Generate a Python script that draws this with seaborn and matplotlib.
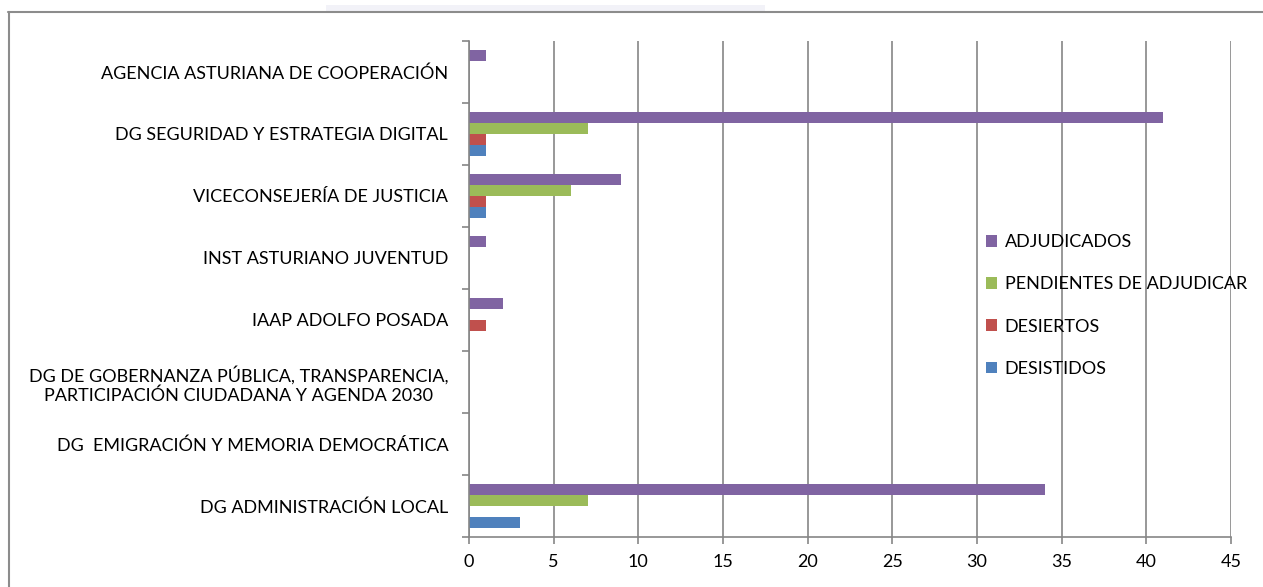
import matplotlib
matplotlib.use("Agg")
import matplotlib.pyplot as plt
import seaborn as sns
import pandas as pd
from matplotlib.lines import Line2D
from matplotlib.patches import Rectangle
from matplotlib.ticker import FixedLocator

categories = [
    "AGENCIA ASTURIANA DE COOPERACIÓN",
    "DG SEGURIDAD Y ESTRATEGIA DIGITAL",
    "VICECONSEJERÍA DE JUSTICIA",
    "INST ASTURIANO JUVENTUD",
    "IAAP ADOLFO POSADA",
    "DG DE GOBERNANZA PÚBLICA, TRANSPARENCIA,\nPARTICIPACIÓN CIUDADANA Y AGENDA 2030",
    "DG  EMIGRACIÓN Y MEMORIA DEMOCRÁTICA",
    "DG ADMINISTRACIÓN LOCAL",
]
series_names = ["ADJUDICADOS", "PENDIENTES DE ADJUDICAR", "DESIERTOS", "DESISTIDOS"]
adjudicados = [1, 41, 9, 1, 2, 0, 0, 34]
pendientes = [0, 7, 6, 0, 0, 0, 0, 7]
desiertos = [0, 1, 1, 0, 1, 0, 0, 0]
desistidos = [0, 1, 1, 0, 0, 0, 0, 3]
x_ticks = [0, 5, 10, 15, 20, 25, 30, 35, 40, 45]
colors = ["#8064A2", "#9BBB59", "#C0504D", "#4F81BD"]

rows = []
for name, vals in zip(series_names, [adjudicados, pendientes, desiertos, desistidos]):
    for c, v in zip(categories, vals):
        rows.append({"cat": c, "serie": name, "valor": v})
df = pd.DataFrame(rows)

sns.set_theme(style="white")
plt.rcParams["font.family"] = ["Lato", "DejaVu Sans"]
plt.rcParams["text.color"] = "black"
FS = 13

fig = plt.figure(figsize=(12.63, 5.87), dpi=100)
ax = fig.add_axes([469 / 1263, 1 - 537 / 587, (1231 - 469) / 1263, (537 - 41) / 587])

sns.barplot(data=df, y="cat", x="valor", hue="serie", order=categories,
            hue_order=series_names, palette=colors, orient="h", width=0.71,
            saturation=1, linewidth=0, ax=ax, legend=True)

ax.set_xlim(0, 45)
ax.set_ylim(len(categories) - 0.5, -0.5)
ax.set_xticks(x_ticks)
ax.set_xticklabels([str(t) for t in x_ticks], fontsize=FS, color="black")
ax.set_xlabel("")
ax.set_ylabel("")
ax.set_yticks(range(len(categories)))
ax.set_yticklabels(categories, fontsize=FS, multialignment="center", color="black")
ax.yaxis.set_minor_locator(FixedLocator([i - 0.5 for i in range(len(categories) + 1)]))
ax.tick_params(axis="y", which="major", length=0, pad=15)
ax.tick_params(axis="y", which="minor", length=5, color="#868686", width=1.2, left=True)
ax.tick_params(axis="x", which="major", length=5, color="#868686", width=1.2, pad=7, bottom=True)
ax.grid(axis="x", color="#868686", linewidth=1.2)
ax.set_axisbelow(True)
for s in ["top", "right"]:
    ax.spines[s].set_visible(False)
for s in ["left", "bottom"]:
    ax.spines[s].set_color("#868686")
    ax.spines[s].set_linewidth(1.2)

handles, labels = ax.get_legend_handles_labels()
ax.legend(handles, labels, loc="upper left", bbox_to_anchor=(979 / 1263, 1 - 227 / 587),
          bbox_transform=fig.transFigure, frameon=False, fontsize=FS,
          handlelength=0.62, handleheight=0.62, handletextpad=0.4, labelspacing=1.45,
          borderaxespad=0)

# figure frame and faint strip
fig.add_artist(Rectangle((326 / 1263, 1 - 11 / 587), (765 - 326) / 1263, 6 / 587,
                         transform=fig.transFigure, color="#f2f2f8", lw=0))
fig.add_artist(Line2D([8 / 1263, 1], [1 - 11.5 / 587, 1 - 11.5 / 587],
                      transform=fig.transFigure, color="#8c8c8c", lw=1.5))
fig.add_artist(Line2D([8.5 / 1263, 8.5 / 1263], [0, 1 - 11.5 / 587],
                      transform=fig.transFigure, color="#8c8c8c", lw=1.5))

fig.savefig("out.png", dpi=100)
